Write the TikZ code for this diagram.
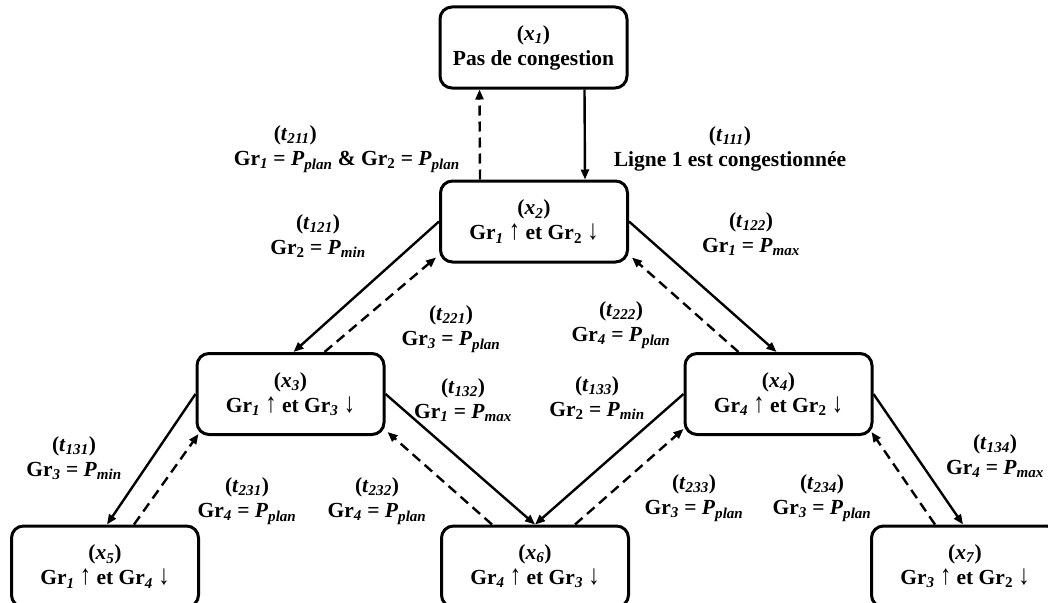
\documentclass[tikz,border=0pt]{standalone}
\usepackage{fontspec}
\setmainfont{Liberation Serif}
\usetikzlibrary{arrows.meta,calc}
\newcommand\sbi[1]{\textsubscript{\textit{#1}}}
\newcommand\sbu[1]{\textsubscript{#1}}
\newcommand\Pv[1]{\textit{P}\sbi{#1}}
\newcommand\upar{{\mdseries\scalebox{1.05}[1.3]{↑}}}
\newcommand\dnar{{\mdseries\scalebox{1.05}[1.3]{↓}}}
\begin{document}
\begin{tikzpicture}[x=1pt,y=-1pt,
  every node/.style={font=\fontsize{21.5}{25}\selectfont\bfseries, align=center, inner sep=0pt},
  state/.style={draw, line width=3pt, rounded corners=12pt, minimum width=187pt, minimum height=81pt},
  go/.style={line width=2.4pt, -{Triangle[length=10pt,width=8pt]}},
  back/.style={go, dash pattern=on 10pt off 6pt},
]
\useasboundingbox (0,0) rectangle (1048,602);
% states
\node[state] (x1) at (533.5,47.5) {(\textit{x}\sbi{1})\\Pas de congestion};
\node[state] (x2) at (534,221.5) {(\textit{x}\sbi{2})\\Gr\sbi{1} \upar{} et Gr\sbu{2} \dnar};
\node[state] (x3) at (290.5,394) {(\textit{x}\sbi{3})\\Gr\sbi{1} \upar{} et Gr\sbi{3} \dnar};
\node[state] (x4) at (778.5,394) {(\textit{x}\sbi{4})\\Gr\sbi{4} \upar{} et Gr\sbu{2} \dnar};
\node[state] (x5) at (105,566.5) {(\textit{x}\sbi{5})\\Gr\sbi{1} \upar{} et Gr\sbi{4} \dnar};
\node[state] (x6) at (535,566.5) {(\textit{x}\sbi{6})\\Gr\sbi{4} \upar{} et Gr\sbi{3} \dnar};
\node[state] (x7) at (965,566.5) {(\textit{x}\sbi{7})\\Gr\sbi{3} \upar{} et Gr\sbu{2} \dnar};
% transitions
\draw[go] ([xshift=51pt]x1.south) -- ([xshift=51pt]x2.north);
\draw[back] ([xshift=-54pt]x2.north) -- ([xshift=-54pt]x1.south);
\draw[go] (x2.west) -- ([xshift=3pt]x3.north);
\draw[back] ([xshift=34pt]x3.north) -- ([xshift=-3pt,yshift=6pt]x2.south west);
\draw[go] (x2.east) -- ([xshift=-2pt]x4.north);
\draw[back] ([xshift=-40pt]x4.north) -- ([xshift=3pt,yshift=6pt]x2.south east);
\draw[go] (x3.west) -- ([xshift=2pt]x5.north);
\draw[back] ([xshift=29pt]x5.north) -- ([xshift=3pt,yshift=2pt]x3.south west);
\draw[go] (x3.east) -- (x6.north);
\draw[back] ([xshift=-43pt]x6.north) -- ([xshift=2pt,yshift=4pt]x3.south east);
\draw[go] (x4.west) -- (x6.north);
\draw[back] ([xshift=40pt]x6.north) -- ([yshift=7pt]x4.south west);
\draw[go] (x4.east) -- ([xshift=-2pt]x7.north);
\draw[back] ([xshift=-30pt]x7.north) -- ([xshift=-2pt,yshift=4pt]x4.south east);
% labels
\node[anchor=east, align=left] (l211) at (460,149) {\hspace*{40pt}(\textit{t}\sbi{211})\\Gr\sbi{1} = \Pv{plan} \& Gr\sbu{2} = \Pv{plan}};
\node (l111) at (730,149) {(\textit{t}\sbi{111})\\Ligne 1 est congestionnée};
\node (l121) at (318,236) {(\textit{t}\sbi{121})\\Gr\sbu{2} = \Pv{min}};
\node (l122) at (751,234) {(\textit{t}\sbi{122})\\Gr\sbi{1} = \Pv{max}};
\node (l221) at (451,329) {(\textit{t}\sbi{221})\\Gr\sbi{3} = \Pv{plan}};
\node (l222) at (621,325) {(\textit{t}\sbi{222})\\Gr\sbi{4} = \Pv{plan}};
\node (l132) at (463,400) {(\textit{t}\sbi{132})\\Gr\sbi{1} = \Pv{max}};
\node (l133) at (597,398) {(\textit{t}\sbi{133})\\Gr\sbu{2} = \Pv{min}};
\node (l131) at (74,458) {(\textit{t}\sbi{131})\\Gr\sbi{3} = \Pv{min}};
\node (l231) at (247,501) {(\textit{t}\sbi{231})\\Gr\sbi{4} = \Pv{plan}};
\node (l232) at (377,501) {(\textit{t}\sbi{232})\\Gr\sbi{4} = \Pv{plan}};
\node (l233) at (694,498) {(\textit{t}\sbi{233})\\Gr\sbi{3} = \Pv{plan}};
\node (l234) at (822,498) {(\textit{t}\sbi{234})\\Gr\sbi{3} = \Pv{plan}};
\node (l134) at (995,456) {(\textit{t}\sbi{134})\\Gr\sbi{4} = \Pv{max}};
\end{tikzpicture}
\end{document}
